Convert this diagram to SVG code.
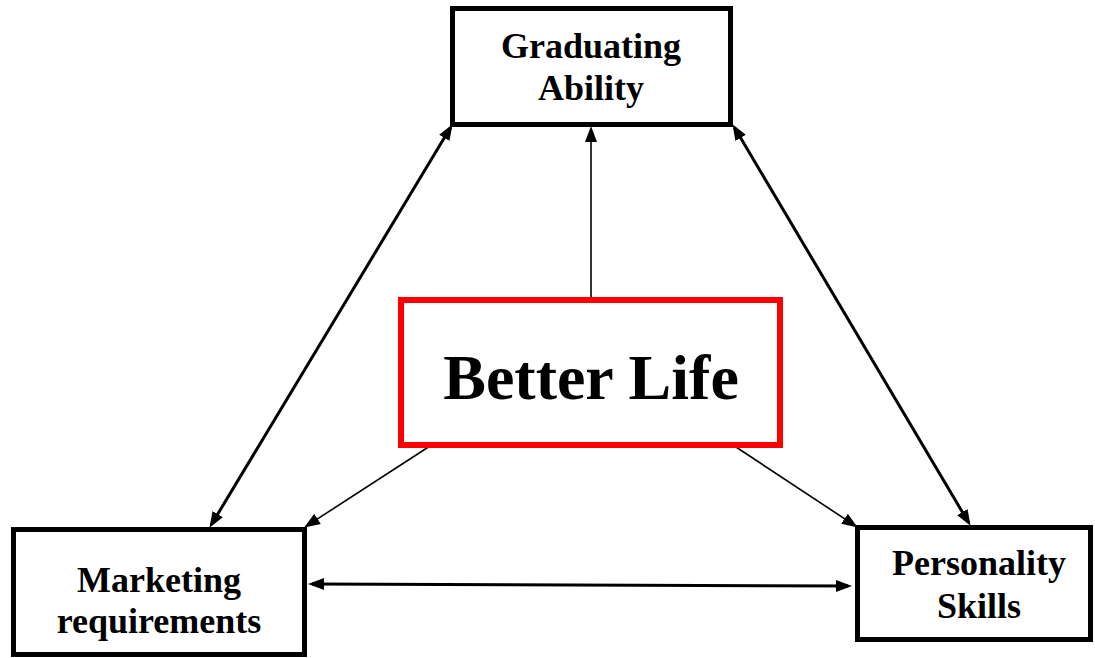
<svg xmlns="http://www.w3.org/2000/svg" width="1095" height="658" viewBox="0 0 1095 658">
<style>
.box{fill:#fff;stroke:#000;stroke-width:5}
.main{fill:#fff;stroke:#ff0000;stroke-width:6}
.t{font-family:"Liberation Serif","Times New Roman",serif;font-weight:bold;font-size:36px;text-anchor:middle;fill:#000}
.big{font-size:64px}
.thick{stroke:#000;stroke-width:3;fill:none}
.thin{stroke:#000;stroke-width:1.6;fill:none}
</style>
<defs>
<marker id="ah" markerUnits="userSpaceOnUse" markerWidth="16" markerHeight="14" viewBox="0 0 16 14" refX="12" refY="7" orient="auto-start-reverse">
<path d="M0,1 L16,7 L0,13 Z" fill="#000"/>
</marker>
</defs>
<rect width="1095" height="658" fill="#fff"/>
<g id="connectors">
<line class="thick" x1="450.5" y1="127.6" x2="211.5" y2="524.4" marker-start="url(#ah)" marker-end="url(#ah)"/>
<line class="thick" x1="734.5" y1="127.6" x2="968.5" y2="522.4" marker-start="url(#ah)" marker-end="url(#ah)"/>
<line class="thin" x1="591" y1="297" x2="591" y2="130" marker-end="url(#ah)"/>
<line class="thin" x1="430" y1="446" x2="307.5" y2="525.4" marker-end="url(#ah)"/>
<line class="thin" x1="736" y1="447" x2="854.5" y2="525.3" marker-end="url(#ah)"/>
<line class="thick" x1="312" y1="584" x2="848" y2="586" marker-start="url(#ah)" marker-end="url(#ah)"/>
</g>
<g id="graduating">
<rect class="box" x="452.5" y="8.5" width="278" height="116"/>
<text class="t" x="591" y="58">Graduating</text>
<text class="t" x="591" y="100">Ability</text>
</g>
<g id="better-life">
<rect class="main" x="401" y="300" width="379" height="145"/>
<text class="t big" x="591" y="399">Better Life</text>
</g>
<g id="marketing">
<rect class="box" x="13.5" y="529.5" width="291" height="125"/>
<text class="t" x="159" y="592">Marketing</text>
<text class="t" x="159" y="633">requirements</text>
</g>
<g id="personality">
<rect class="box" x="857.5" y="527.5" width="233" height="112"/>
<text class="t" x="979" y="575">Personality</text>
<text class="t" x="979" y="618">Skills</text>
</g>
</svg>
